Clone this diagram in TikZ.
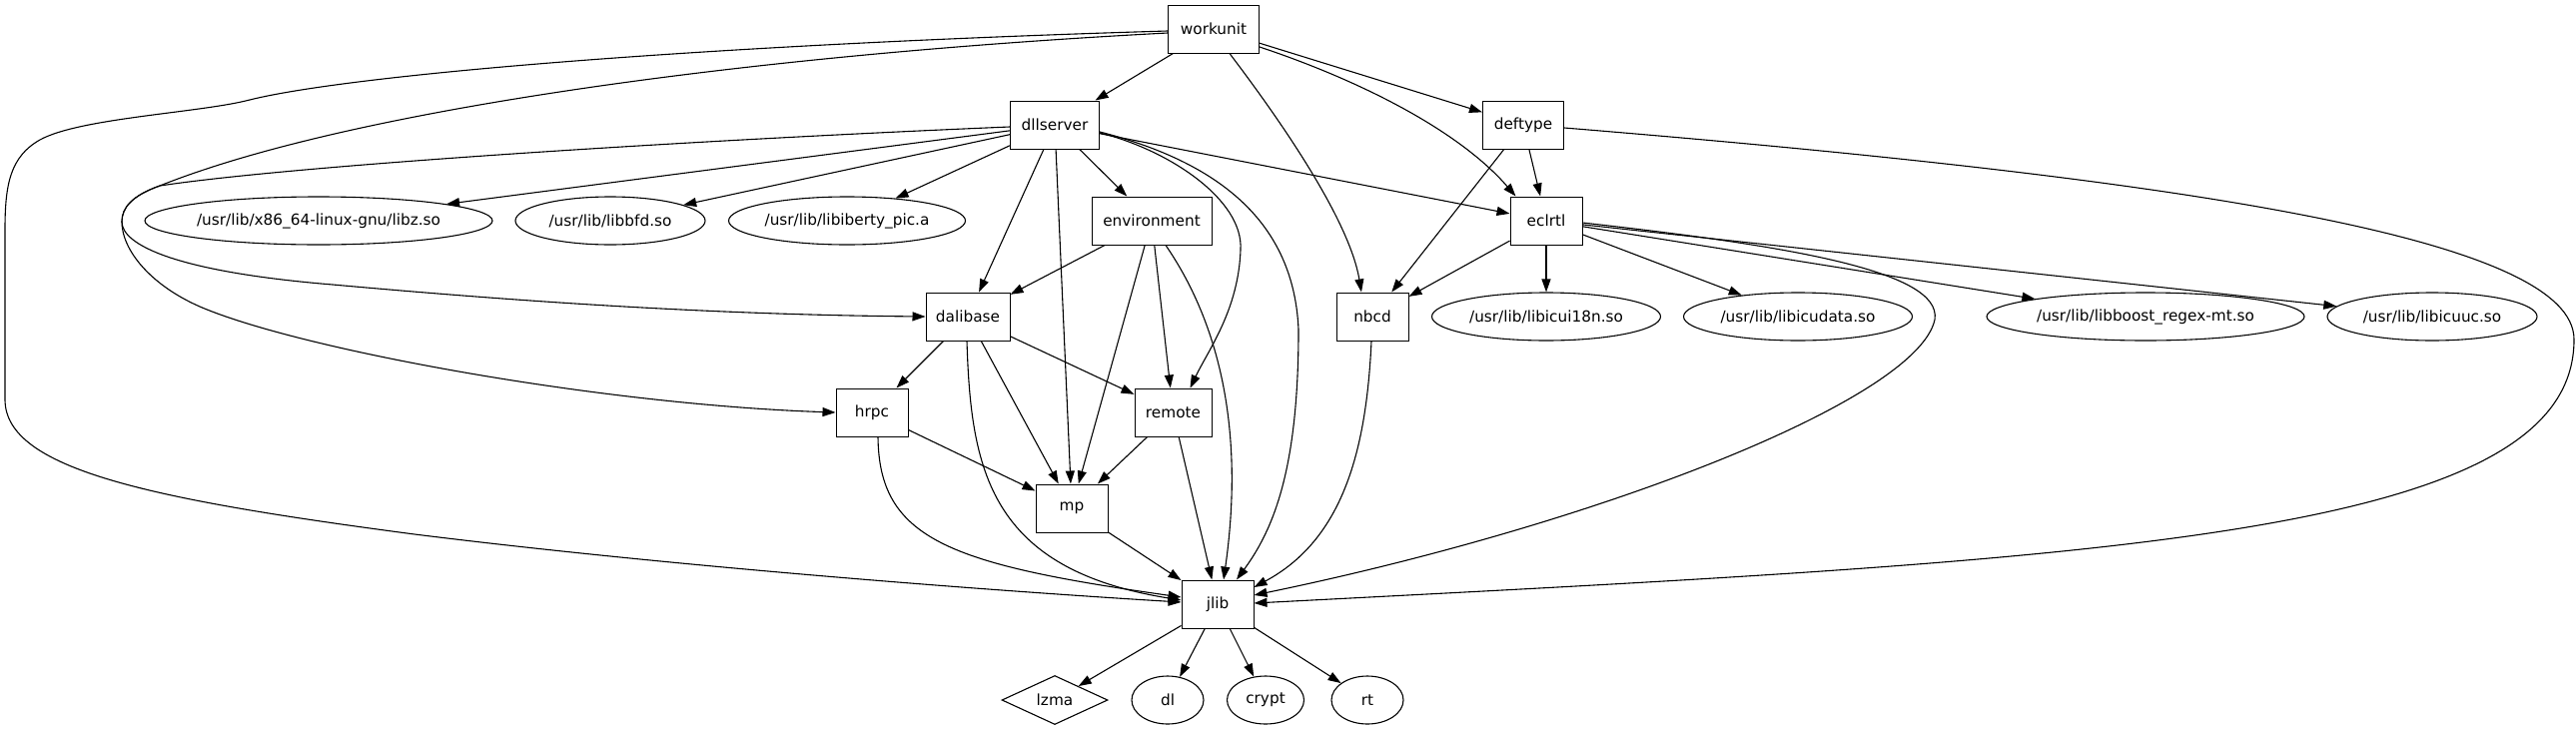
\documentclass[tikz,border=0pt]{standalone}
\usepackage{fontspec}
\setmainfont{DejaVu Sans}
\usetikzlibrary{arrows.meta,shapes.geometric,calc}
\begin{document}
\begin{tikzpicture}[x=1pt,y=-1pt,
  font=\fontsize{15.3}{18}\selectfont,
  box/.style={draw, rectangle, line width=1pt, minimum height=48pt, inner sep=0pt},
  ell/.style={draw, ellipse, line width=1.1pt, minimum height=48pt, inner sep=0pt},
  dmd/.style={draw, diamond, line width=1.1pt, inner sep=0pt},
  dep/.style={-{Triangle[length=13pt,width=9pt]}, line width=1.1pt},
]
\useasboundingbox (0,0) rectangle (2579,731);

% nodes
\node[box, minimum width=91pt] (workunit) at (1215,29) {workunit};
\node[box, minimum width=89pt] (dllserver) at (1056,125) {dllserver};
\node[box, minimum width=81pt] (deftype) at (1525,125) {deftype};
\node[ell, minimum width=348pt] (libz) at (319,221) {/usr/lib/x86\_64-linux-gnu/libz.so};
\node[ell, minimum width=190pt] (libbfd) at (611,221) {/usr/lib/libbfd.so};
\node[ell, minimum width=237pt] (libiberty) at (848,221) {/usr/lib/libiberty\_pic.a};
\node[box, minimum width=120pt] (environment) at (1153,221) {environment};
\node[box, minimum width=72pt] (eclrtl) at (1548,221) {eclrtl};
\node[box, minimum width=84pt] (dalibase) at (969,317) {dalibase};
\node[box, minimum width=72pt] (nbcd) at (1374,317) {nbcd};
\node[ell, minimum width=229pt] (libicui) at (1548,317) {/usr/lib/libicui18n.so};
\node[ell, minimum width=229pt] (libicudata) at (1800,317) {/usr/lib/libicudata.so};
\node[ell, minimum width=318pt] (libboost) at (2148,317) {/usr/lib/libboost\_regex-mt.so};
\node[ell, minimum width=210pt] (libicuuc) at (2435,317) {/usr/lib/libicuuc.so};
\node[box, minimum width=72pt] (hrpc) at (873,413) {hrpc};
\node[box, minimum width=77pt] (remote) at (1174.5,413) {remote};
\node[box, minimum width=72pt] (mp) at (1073,509) {mp};
\node[box, minimum width=72pt] (jlib) at (1219,605) {jlib};
\node[dmd, minimum width=106pt, minimum height=49pt] (lzma) at (1056,701) {lzma};
\node[ell, minimum width=72pt] (dl) at (1169,701) {dl};
\node[ell, minimum width=77pt] (crypt) at (1267,701) {crypt};
\node[ell, minimum width=72pt] (rt) at (1369,701) {rt};

% workunit
\draw[dep] (workunit) -- (dllserver);
\draw[dep] (workunit) -- (deftype);
\draw[dep] ($(workunit.east)+(0,18)$) .. controls (1360,80) and (1460,130) .. ($(eclrtl.north west)+(6,0)$);
\draw[dep] ($(workunit.south)+(16,0)$) .. controls (1270,105) and (1350,215) .. ($(nbcd.north)+(-11,0)$);
\draw[dep] ($(workunit.west)+(0,2)$) .. controls (700,45) and (350,75) .. (250,100)
   .. controls (200,113) and (80,118) .. (40,140)
   .. controls (10,157) and (5,185) .. (5,230) -- (5,400)
   .. controls (5,470) and (150,500) .. (415,535)
   .. controls (680,568) and (1000,592) .. ($(jlib.west)+(0,-2)$);
\draw[dep] ($(workunit.west)+(0,4)$) .. controls (750,55) and (350,110) .. (160,186)
   .. controls (132,196) and (122,208) .. (122,222)
   .. controls (122,250) and (150,285) .. (200,307)
   .. controls (300,350) and (600,405) .. (hrpc.west);

% dllserver
\draw[dep] (dllserver) -- (libz);
\draw[dep] (dllserver) -- (libbfd);
\draw[dep] (dllserver) -- (libiberty);
\draw[dep] (dllserver) -- (environment);
\draw[dep] (dllserver) -- (dalibase);
\draw[dep] (dllserver) -- (mp);
\draw[dep] (dllserver) -- (eclrtl);
\draw[dep] ($(dllserver.west)+(0,2)$) .. controls (700,140) and (300,165) .. (160,186)
   .. controls (132,196) and (122,208) .. (122,222)
   .. controls (122,245) and (175,272) .. (333,285)
   .. controls (500,300) and (700,315) .. (dalibase.west);
\draw[dep] ($(dllserver.east)+(0,8)$) .. controls (1170,150) and (1245,200) .. (1242,250)
   .. controls (1240,310) and (1210,350) .. ($(remote.north)+(17,0)$);
\draw[dep] ($(dllserver.east)+(0,7)$) .. controls (1210,160) and (1295,215) .. (1300,330)
   .. controls (1300,470) and (1275,530) .. ($(jlib.north)+(19,0)$);

% deftype
\draw[dep] (deftype) -- (eclrtl);
\draw[dep] (deftype) -- (nbcd);
\draw[dep] ($(deftype.east)+(0,3)$) .. controls (2200,180) and (2577,240) .. (2577,340)
   .. controls (2577,540) and (2100,560) .. ($(jlib.east)+(0,-1)$);

% environment
\draw[dep] (environment) -- (dalibase);
\draw[dep] (environment) -- (mp);
\draw[dep] (environment) -- (remote);
\draw[dep] ($(environment.south)+(14,0)$) .. controls (1225,330) and (1245,440) .. ($(jlib.north)+(6,0)$);

% eclrtl
\draw[dep] (eclrtl) -- (nbcd);
\draw[dep] (eclrtl) -- (libicui);
\draw[dep] (eclrtl) -- (libicudata);
\draw[dep] (eclrtl) -- (libboost);
\draw[dep] (eclrtl) -- (libicuuc);
\draw[dep] ($(eclrtl.east)+(0,2)$) .. controls (1780,245) and (1945,270) .. (1937,320)
   .. controls (1920,400) and (1600,525) .. ($(jlib.east)+(0,-9)$);

% dalibase
\draw[dep] (dalibase) -- (hrpc);
\draw[dep] (dalibase) -- (mp);
\draw[dep] (dalibase) -- (remote);
\draw[dep] ($(dalibase.south)+(-1,0)$) .. controls (972,470) and (990,570) .. ($(jlib.west)+(0,-4)$);

% nbcd
\draw[dep] ($(nbcd.south)+(-1,0)$) .. controls (1368,450) and (1345,540) .. ($(jlib.east)+(0,-17)$);

% hrpc
\draw[dep] (hrpc) -- (mp);
\draw[dep] ($(hrpc.south)+(6,0)$) .. controls (880,540) and (950,565) .. ($(jlib.west)+(0,-7)$);

% remote, mp
\draw[dep] (remote) -- (mp);
\draw[dep] (remote) -- (jlib);
\draw[dep] (mp) -- (jlib);

% jlib
\draw[dep] (jlib) -- (lzma);
\draw[dep] (jlib) -- (dl);
\draw[dep] (jlib) -- (crypt);
\draw[dep] (jlib) -- (rt);
\end{tikzpicture}
\end{document}
